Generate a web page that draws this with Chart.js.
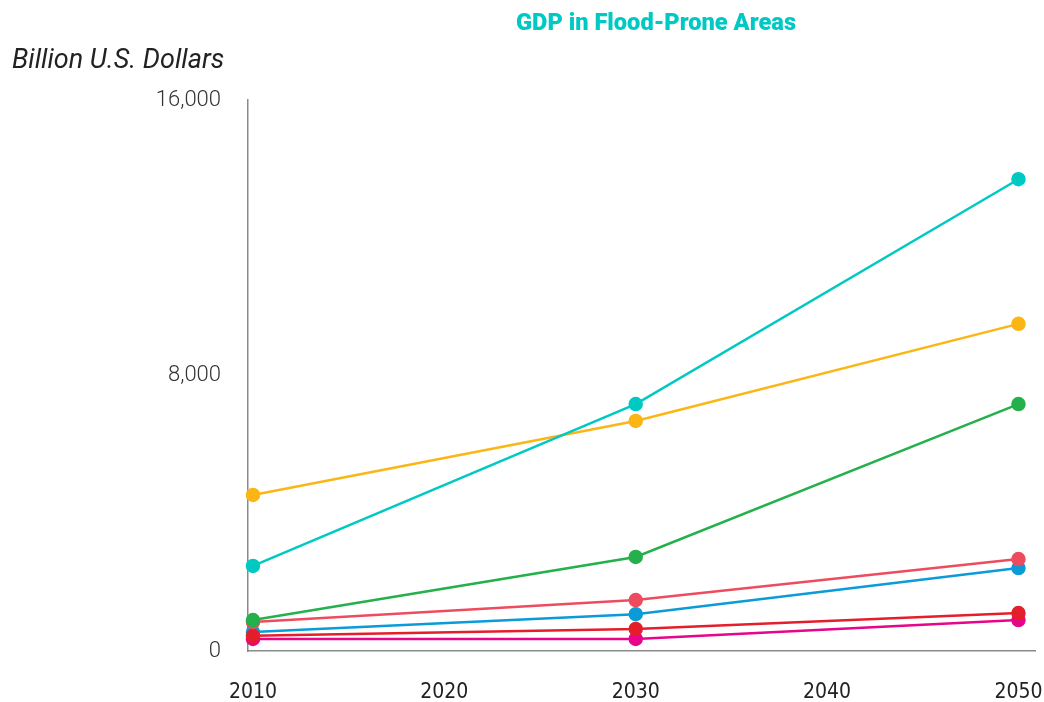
<!DOCTYPE html>
<html>
<head>
<meta charset="utf-8">
<script src="https://cdn.jsdelivr.net/npm/chart.js@4"></script>
<style>
  html, body { margin: 0; padding: 0; background: #fff; }
  #wrap { position: relative; width: 1044px; height: 702px; }
</style>
</head>
<body>
<div id="wrap"><canvas id="chart" width="1044" height="702"></canvas></div>
<script>
// ── DONNEES ──
const years     = [2010, 2030, 2050];
const yTicks    = [0, 8000, 16000];
const xTicks    = [2010, 2020, 2030, 2040, 2050];

const tealVals    = [2470, 7170, 13700];
const yellowVals  = [4530, 6680, 9500];
const greenVals   = [900, 2730, 7170];
const coralVals   = [840, 1480, 2670];
const blueVals    = [550, 1070, 2410];
const redVals     = [440, 640, 1100];
const magentaVals = [350, 350, 900];

const titleText = "GDP in Flood-Prone Areas";
const unitText  = "Billion U.S. Dollars";

const NARROW = "'Liberation Sans Narrow', 'DejaVu Sans Condensed', 'Roboto', sans-serif";

function serie(label, vals, color, order) {
    return {
        label: label,
        data: years.map((y, i) => ({ x: y, y: vals[i] })),
        borderColor: color,
        backgroundColor: color,
        pointBackgroundColor: color,
        pointBorderColor: color,
        borderWidth: 2.5,
        pointRadius: 6,
        pointHoverRadius: 6,
        tension: 0,
        order: order,
        clip: false
    };
}

// ── TEXTES ──
const textPlugin = {
    id: "texts",
    afterDraw(chart) {
        const ctx = chart.ctx;
        ctx.save();
        // titre condensé
        ctx.fillStyle = "#00c9c4";
        ctx.font = "900 24px 'Roboto', sans-serif";
        ctx.textAlign = "center";
        ctx.textBaseline = "middle";
        const w = ctx.measureText(titleText).width;
        const k = 280 / w;
        ctx.translate(656, 24);
        ctx.scale(k, 1);
        ctx.fillText(titleText, 0, 0);
        ctx.restore();

        ctx.save();
        ctx.fillStyle = "#222";
        ctx.font = "italic 400 27px 'Roboto', 'Liberation Sans', sans-serif";
        ctx.textAlign = "left";
        ctx.textBaseline = "middle";
        ctx.fillText(unitText, 12, 61);
        ctx.restore();
    }
};

const ctx = document.getElementById("chart").getContext("2d");
new Chart(ctx, {
    type: "line",
    data: {
        datasets: [
            serie("Teal",    tealVals,    "#00c9c4", 1),
            serie("Yellow",  yellowVals,  "#fbb616", 2),
            serie("Green",   greenVals,   "#24b04b", 3),
            serie("Coral",   coralVals,   "#ee4c5e", 4),
            serie("Blue",    blueVals,    "#0a9bd8", 6),
            serie("Red",     redVals,     "#e41e2b", 5),
            serie("Magenta", magentaVals, "#e8058a", 7)
        ]
    },
    options: {
        responsive: false,
        animation: false,
        layout: { padding: { top: 100, right: 0, left: 0, bottom: 0 } },
        plugins: {
            legend: { display: false },
            tooltip: { enabled: false }
        },
        scales: {
            x: {
                type: "linear",
                min: 2009.74,
                max: 2050.89,
                afterBuildTicks: scale => { scale.ticks = xTicks.map(v => ({ value: v })); },
                afterFit: scale => {
                    scale.height = 51;
                    scale.paddingLeft = 0;
                    scale.paddingRight = 0;
                },
                grid: { display: false, drawTicks: false },
                border: { display: true, color: "#8a8a8a", width: 1.5 },
                ticks: {
                    color: "#222",
                    padding: 29,
                    font: { family: NARROW, size: 21 },
                    callback: v => String(v)
                }
            },
            y: {
                min: 0,
                max: 16000,
                afterBuildTicks: scale => { scale.ticks = yTicks.map(v => ({ value: v })); },
                afterFit: scale => { scale.width = 248; },
                grid: { display: false, drawTicks: false },
                border: { display: true, color: "#8a8a8a", width: 1.5 },
                ticks: {
                    color: "#333",
                    padding: 27,
                    font: { family: "'Roboto', 'Liberation Sans', sans-serif", size: 22, weight: 300 },
                    callback: v => v.toLocaleString("en-US")
                }
            }
        }
    },
    plugins: [textPlugin]
});
</script>
</body>
</html>
